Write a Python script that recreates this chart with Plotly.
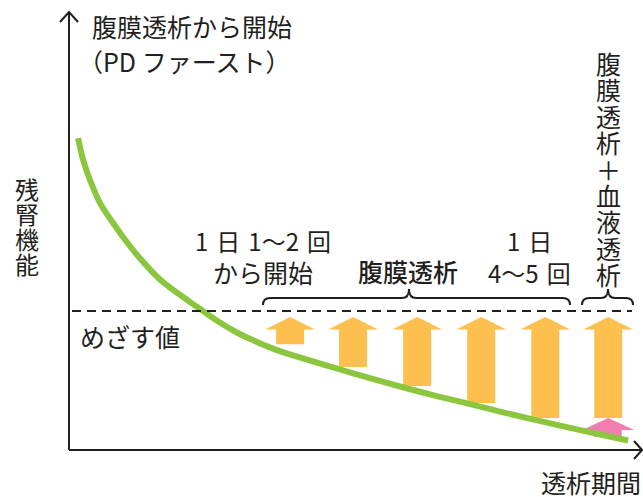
import plotly.graph_objects as go

# ---------------- data (time t: 0-100, residual function f: 0-100) ----------------
curve_t = [1.6, 2.5, 3.7, 5.5, 7.8, 10.8, 12.5, 16.1, 21.3, 23.6, 26.6, 29.6, 32.5,
           35.5, 38.5, 41.3, 46.6, 52.6, 58.4, 64.2, 70.2, 76.0, 81.8, 87.8, 93.7, 98.6]
curve_f = [72.2, 67.1, 62.5, 57.1, 52.5, 47.1, 44.4, 39.4, 34.3, 32.2, 29.5, 27.2, 25.4,
           23.7, 22.3, 21.2, 19.1, 16.8, 14.7, 12.7, 10.8, 8.9, 7.1, 5.3, 3.6, 2.2]
target_f = 32.2                      # めざす値
pd_arrow_t = [39.0, 50.1, 61.4, 72.7, 84.0, 95.1]
pd_arrow_bottom = [24.5, 19.2, 14.8, 10.9, 7.4, 7.4]
pd_arrow_top = 30.8
hd_arrow_t = [95.1]
hd_arrow_bottom = [3.0]
hd_arrow_top = 7.4

# ---------------- geometry helpers (figure is 643x497 px, no margins) ----------------
W, H = 643, 497
X0, X100 = 69, 636      # px of t=0, t=100
Y0, Y100 = 450, 18      # px of f=0, f=100
SX = (X100 - X0) / 100
SY = (Y0 - Y100) / 100
xr = [(0 - X0) / SX, (W - X0) / SX]
yr = [(Y0 - H) / SY, (Y0 - 0) / SY]

def tx(px):
    return (px - X0) / SX

def fy(py):
    return (Y0 - py) / SY

def px_x(px):
    return px / W

def px_y(py):
    return 1 - py / H

TEXT = "#231f20"
FONT = "Noto Sans CJK JP"

fig = go.Figure()

# arrows
def arrow_poly(c, bottom, top, shaft_px, head_px, head_h_px):
    sw, hw = shaft_px / SX, head_px / SX
    hb = top - head_h_px / SY
    xs = [c - sw, c - sw, c - hw, c, c + hw, c + sw, c + sw, c - sw]
    ys = [bottom, hb, hb, top, hb, hb, bottom, bottom]
    return xs, ys

for c, b in zip(pd_arrow_t, pd_arrow_bottom):
    xs, ys = arrow_poly(c, b, pd_arrow_top, 14, 25, 12.6)
    fig.add_trace(go.Scatter(x=xs, y=ys, fill="toself", fillcolor="#fdc04e",
                             line=dict(width=0), mode="lines", hoverinfo="skip"))
for c, b in zip(hd_arrow_t, hd_arrow_bottom):
    xs, ys = arrow_poly(c, b, hd_arrow_top, 13.5, 26, 12)
    fig.add_trace(go.Scatter(x=xs, y=ys, fill="toself", fillcolor="#f07eb0",
                             line=dict(width=0), mode="lines", hoverinfo="skip"))

# residual function curve
fig.add_trace(go.Scatter(x=curve_t, y=curve_f, mode="lines",
                         line=dict(color="#8cc63f", width=6, shape="spline", smoothing=1.0),
                         hoverinfo="skip"))

shapes = []
# target dashed line
shapes.append(dict(type="line", xref="x", yref="y", x0=tx(72), x1=tx(632), y0=target_f, y1=target_f,
                   line=dict(color="#231f20", width=2, dash="9px,6px")))
# axes
shapes.append(dict(type="line", xref="x", yref="y", x0=0, x1=0, y0=0, y1=fy(12),
                   line=dict(color="#231f20", width=2)))
shapes.append(dict(type="path", xref="x", yref="y",
                   path=f"M {tx(60)},{fy(22)} L 0,{fy(12)} L {tx(78)},{fy(22)}",
                   line=dict(color="#231f20", width=2)))
shapes.append(dict(type="line", xref="x", yref="y", x0=0, x1=tx(642), y0=0, y1=0,
                   line=dict(color="#231f20", width=2)))
shapes.append(dict(type="path", xref="x", yref="y",
                   path=f"M {tx(634)},{fy(441)} L {tx(642)},0 L {tx(634)},{fy(459)}",
                   line=dict(color="#231f20", width=2)))

# braces
def brace(a_px, b_px, m_px):
    a, b, m = tx(a_px), tx(b_px), tx(m_px)
    ye, yh, yp = fy(305), fy(298), fy(289)
    r = 7 / SX
    p = (f"M {a},{ye} Q {a},{yh} {a + r},{yh} L {m - r},{yh} Q {m},{yh} {m},{yp} "
         f"Q {m},{yh} {m + r},{yh} L {b - r},{yh} Q {b},{yh} {b},{ye}")
    return dict(type="path", xref="x", yref="y", path=p, line=dict(color="#231f20", width=2))

shapes.append(brace(263, 570, 409))
shapes.append(brace(582, 633, 608))

ann = []

def text(s, px, py, size=25, anchor="center", weight=400):
    ann.append(dict(text=s, x=px_x(px), y=px_y(py), xref="paper", yref="paper",
                    xanchor=anchor, yanchor="middle", showarrow=False,
                    font=dict(family=FONT, size=size, color=TEXT, weight=weight)))

SP = "\u2004"
text("腹膜透析から開始", 90, 26, 25, "left")
text("（PD ファースト）", 76, 61, 25, "left")
for i, ch in enumerate("残腎機能"):
    text(ch, 27, 188 + 25 * i, 24)
text("めざす値", 78, 336, 25, "left")
text(f"1{SP}日{SP}1〜2{SP}回", 263, 241, 24)
text("から開始", 263, 272, 25)
text("腹膜透析", 408, 271, 25, weight=500)
text(f"1{SP}日", 529, 241, 24)
text(f"4〜5{SP}回", 529, 272, 24)
for i, ch in enumerate("腹膜透析＋血液透析"):
    text(ch, 608, 63 + 26.4 * i, 25)
text("透析期間", 591, 482, 25)

fig.update_layout(
    width=W, height=H, margin=dict(l=0, r=0, t=0, b=0),
    paper_bgcolor="white", plot_bgcolor="white", showlegend=False,
    xaxis=dict(range=xr, visible=False, fixedrange=True),
    yaxis=dict(range=yr, visible=False, fixedrange=True),
    shapes=shapes, annotations=ann,
)
fig.write_html("out.html", config={"displayModeBar": False},
               post_script="document.body.style.margin='0';document.body.style.padding='0';"
                           "document.body.style.overflow='hidden';")
